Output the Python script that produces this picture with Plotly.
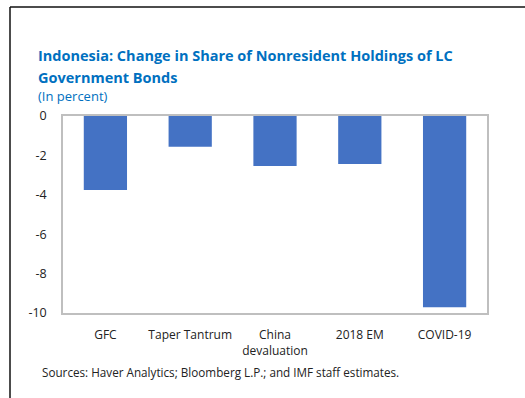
import plotly.graph_objects as go

# Episodes and change in nonresident share (percentage points)
episodes = ["GFC", "Taper Tantrum", "China<br>devaluation", "2018 EM", "COVID-19"]
share_change = [-3.76, -1.56, -2.54, -2.44, -9.71]
y_ticks = [0, -2, -4, -6, -8, -10]

W, H = 525, 398
L, R, T, B = 63, 38, 116, 85
pw, ph = W - L - R, H - T - B


def px(x):
    return (x - L) / pw


def py(y):
    return (H - B - y) / ph


FONT = "Open Sans"
BLUE = "#0070C0"

fig = go.Figure(
    go.Bar(
        x=episodes,
        y=share_change,
        marker=dict(color="#4472C4", line=dict(width=0)),
        width=0.51,
    )
)

fig.update_layout(
    width=W,
    height=H,
    margin=dict(l=L, r=R, t=T, b=B),
    plot_bgcolor="white",
    paper_bgcolor="white",
    showlegend=False,
    font=dict(family=FONT, size=12, color="#222222"),
)

fig.update_yaxes(
    range=[-10, 0],
    tickvals=y_ticks,
    ticktext=[str(v) for v in y_ticks],
    showgrid=False,
    zeroline=False,
    showline=True,
    linecolor="#BFBFBF",
    linewidth=1.5,
    mirror=True,
    ticks="",
    ticklabelstandoff=12,
    tickfont=dict(size=12.5, color="#222222"),
)
fig.update_xaxes(
    showgrid=False,
    showline=True,
    linecolor="#BFBFBF",
    linewidth=1.5,
    mirror=True,
    ticks="",
    ticklabelstandoff=10,
    tickfont=dict(size=12, color="#222222"),
)

# Title, unit note and sources
fig.add_annotation(
    text="<b>Indonesia: Change in Share of Nonresident Holdings of LC</b>",
    xref="paper", yref="paper", x=px(36), y=py(55),
    xanchor="left", yanchor="middle", showarrow=False,
    font=dict(family=FONT, size=14.5, color=BLUE),
)
fig.add_annotation(
    text="<b>Government Bonds</b>",
    xref="paper", yref="paper", x=px(36), y=py(77),
    xanchor="left", yanchor="middle", showarrow=False,
    font=dict(family=FONT, size=14.5, color=BLUE),
)
fig.add_annotation(
    text="(In percent)",
    xref="paper", yref="paper", x=px(36), y=py(96),
    xanchor="left", yanchor="middle", showarrow=False,
    font=dict(family=FONT, size=13, color=BLUE),
)
fig.add_annotation(
    text="Sources: Haver Analytics; Bloomberg L.P.; and IMF staff estimates.",
    xref="paper", yref="paper", x=px(40), y=py(372),
    xanchor="left", yanchor="middle", showarrow=False,
    font=dict(family=FONT, size=11.7, color="#222222"),
)

# Outer frame (top and left edges)
fig.add_shape(type="line", xref="paper", yref="paper",
              x0=px(10), x1=px(525), y0=py(7), y1=py(7),
              line=dict(color="#111111", width=1.5))
fig.add_shape(type="line", xref="paper", yref="paper",
              x0=px(10), x1=px(10), y0=py(7), y1=py(398),
              line=dict(color="#111111", width=1.5))

fig.write_html("out.html")
